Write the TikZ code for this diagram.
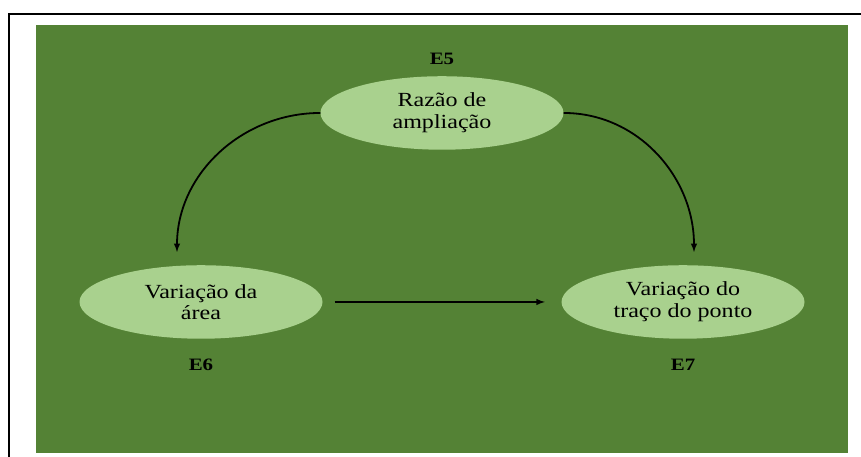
\documentclass[tikz,border=0pt]{standalone}
\usepackage{fontspec}
\setmainfont[FakeStretch=1.2]{Liberation Serif}
\usepackage{tikz}
\usetikzlibrary{arrows}
\usetikzlibrary{calc}
\usetikzlibrary{positioning}
\usetikzlibrary{shapes.geometric}
\definecolor{bggreen}{HTML}{548235}
\definecolor{lightgreen}{HTML}{A9D18E}
\begin{document}
\begin{tikzpicture}[
  > = latex,
  stage/.style = {ellipse, fill=lightgreen, minimum width=8.1cm, minimum height=2.45cm, align=center, font=\fontsize{19}{20.5}\selectfont, inner sep=0pt},
  tag/.style = {font=\fontsize{16.5}{17}\selectfont\bfseries},
  link/.style = {->, line width=1.7pt}
  ]
	\useasboundingbox (0,0) rectangle (28.7,15.233);
	\fill[white] (0,0) rectangle (28.7,15.233);
	\draw[line width=1.4pt] (0.3,0) |- (28.7,14.767);
	\fill[bggreen] (1.2,0.133) rectangle (28.267,14.4);

	\node[stage] (razao) at (14.733,11.467) {Razão de\\ampliação};
	\node[stage] (area) at (6.7,5.167) {Variação da\\área};
	\node[stage] (traco) at (22.767,5.167) {Variação do\\traço do ponto};

	\node[tag, above=0.25cm of razao] (e5) {E5};
	\node[tag, below=0.55cm of area] (e6) {E6};
	\node[tag, below=0.55cm of traco] (e7) {E7};

	\coordinate (l) at (5.9,6.833);
	\coordinate (r) at (23.133,6.833);

	\draw[link] (razao.west) to[out=180,in=90] (l);
	\draw[link] (razao.east) to[out=0,in=90] (r);
	\draw[link] ($ (area.east) + (0.4,0) $) -- ($ (traco.west) - (0.55,0) $);
\end{tikzpicture}
\end{document}
